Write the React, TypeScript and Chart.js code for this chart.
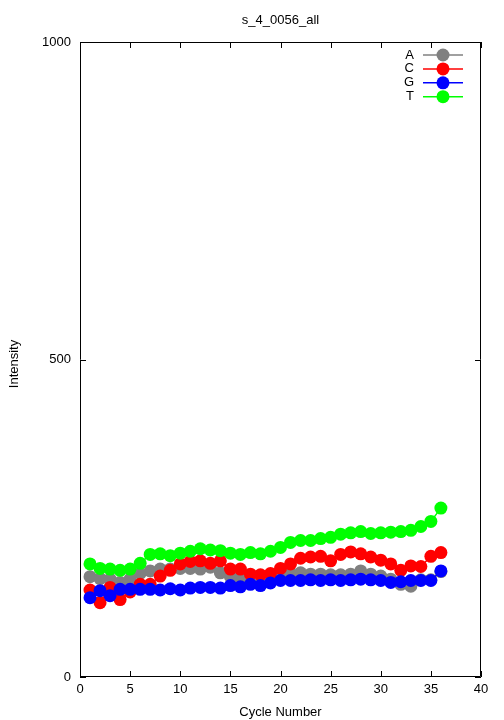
import { useEffect, useRef } from "react";
import { Chart, registerables } from "chart.js";

Chart.register(...registerables);

const chartTitle = "s_4_0056_all";
const xTitle = "Cycle Number";
const yTitle = "Intensity";
const cycles = [
  1, 2, 3, 4, 5, 6, 7, 8, 9, 10, 11, 12, 13, 14, 15, 16, 17, 18,
  19, 20, 21, 22, 23, 24, 25, 26, 27, 28, 29, 30, 31, 32, 33, 34, 35, 36,
];
const seriesA = [
  158, 155, 154, 149, 154, 163, 167, 170, 170, 171, 171, 170, 173, 164, 158, 155, 156, 155,
  156, 158, 163, 164, 162, 162, 161, 161, 162, 167, 162, 159, 154, 146, 143, 153, 153, 166,
];
const seriesC = [
  137, 117, 141, 122, 134, 146, 146, 159, 168, 178, 182, 183, 179, 183, 170, 170, 162, 161,
  163, 171, 178, 187, 189, 190, 183, 193, 197, 194, 189, 184, 178, 168, 175, 174, 190, 196,
];
const seriesG = [
  125, 136, 128, 138, 138, 138, 138, 137, 139, 137, 140, 141, 141, 140, 144, 142, 146, 144,
  148, 152, 152, 152, 153, 152, 153, 152, 153, 154, 153, 152, 149, 150, 152, 152, 152, 167,
];
const seriesT = [
  178, 171, 170, 168, 170, 179, 193, 194, 191, 195, 198, 202, 200, 199, 195, 193, 196, 194,
  198, 204, 212, 215, 215, 218, 220, 225, 227, 229, 226, 227, 228, 229, 231, 237, 245, 266,
];
const seriesNames = ["A", "C", "G", "T"];
const seriesColors = ["#808080", "#ff0000", "#0000ff", "#00ff00"];
const seriesValues = [seriesA, seriesC, seriesG, seriesT];

const FONT = "'Liberation Sans', Arial, sans-serif";
const FONT_SIZE = 13;
const POINT_R = 6.5;

const framePlugin = {
  id: "gnuFrame",
  beforeDatasetsDraw(chart: any) {
    const { ctx, chartArea } = chart;
    const { left, right, top, bottom } = chartArea;
    const xs = chart.scales.x;
    const ys = chart.scales.y;
    ctx.save();
    ctx.strokeStyle = "#000";
    ctx.lineWidth = 1;
    ctx.beginPath();
    ctx.rect(left + 0.5, top + 0.5, right - left - 1, bottom - top - 1);
    ctx.stroke();
    const tl = 6;
    ctx.beginPath();
    xs.ticks.forEach((t: any) => {
      const px = Math.round(xs.getPixelForValue(t.value)) + 0.5;
      ctx.moveTo(px, bottom);
      ctx.lineTo(px, bottom - tl);
      ctx.moveTo(px, top);
      ctx.lineTo(px, top + tl);
    });
    ys.ticks.forEach((t: any) => {
      const py = Math.round(ys.getPixelForValue(t.value)) + 0.5;
      ctx.moveTo(left, py);
      ctx.lineTo(left + tl, py);
      ctx.moveTo(right, py);
      ctx.lineTo(right - tl, py);
    });
    ctx.stroke();
    ctx.restore();
  },
  afterDraw(chart: any) {
    const { ctx, chartArea } = chart;
    ctx.save();
    ctx.fillStyle = "#000";
    ctx.font = `${FONT_SIZE}px ${FONT}`;
    ctx.textAlign = "center";
    ctx.textBaseline = "middle";
    ctx.fillText(chartTitle, (chartArea.left + chartArea.right) / 2, 20);
    ctx.fillText(xTitle, (chartArea.left + chartArea.right) / 2, 712);
    ctx.save();
    ctx.translate(14, 364);
    ctx.rotate(-Math.PI / 2);
    ctx.fillText(yTitle, 0, 0);
    ctx.restore();
    // legend
    const textRight = 414;
    const lineL = 423;
    const lineR = 463;
    const markX = 443;
    seriesNames.forEach((name, i) => {
      const y = 55 + i * 13.9;
      ctx.fillStyle = "#000";
      ctx.textAlign = "right";
      ctx.fillText(name, textRight, y);
      ctx.strokeStyle = seriesColors[i];
      ctx.lineWidth = 1.5;
      ctx.beginPath();
      ctx.moveTo(lineL, y);
      ctx.lineTo(lineR, y);
      ctx.stroke();
      ctx.fillStyle = seriesColors[i];
      ctx.beginPath();
      ctx.arc(markX, y, POINT_R, 0, Math.PI * 2);
      ctx.fill();
    });
    ctx.restore();
  },
};

export default function App() {
  const ref = useRef<HTMLCanvasElement | null>(null);
  useEffect(() => {
    document.body.style.margin = "0";
    const canvas = ref.current;
    if (!canvas) return;
    const datasets = seriesNames.map((name, i) => ({
      label: name,
      data: cycles.map((c, j) => ({ x: c, y: seriesValues[i][j] })),
      borderColor: seriesColors[i],
      backgroundColor: seriesColors[i],
      pointBackgroundColor: seriesColors[i],
      pointBorderWidth: 0,
      pointRadius: POINT_R,
      borderWidth: 1.5,
      showLine: true,
      order: seriesNames.length - i,
    }));
    const chart = new Chart(canvas, {
      type: "scatter",
      data: { datasets },
      options: {
        animation: false,
        responsive: false,
        devicePixelRatio: 1,
        layout: { padding: { top: 42, right: 23, left: 0, bottom: 0 } },
        plugins: {
          legend: { display: false },
          title: { display: false },
          tooltip: { enabled: false },
        },
        scales: {
          x: {
            type: "linear",
            min: 0,
            max: 40,
            ticks: {
              stepSize: 5,
              color: "#000",
              font: { family: FONT, size: FONT_SIZE },
              padding: 5,
              maxRotation: 0,
              callback: (v: any) => String(v),
            },
            grid: { display: false, drawTicks: false },
            border: { display: false },
            afterFit: (s: any) => {
              s.height = 43;
            },
          },
          y: {
            type: "linear",
            min: 0,
            max: 1000,
            ticks: {
              stepSize: 500,
              color: "#000",
              font: { family: FONT, size: FONT_SIZE },
              padding: 9,
              callback: (v: any) => String(v),
            },
            grid: { display: false, drawTicks: false },
            border: { display: false },
            afterFit: (s: any) => {
              s.width = 80;
            },
          },
        },
      },
      plugins: [framePlugin],
    } as any);
    return () => chart.destroy();
  }, []);
  return (
    <div style={{ position: "fixed", left: 0, top: 0, width: 504, height: 720, background: "#fff" }}>
      <canvas ref={ref} width={504} height={720} style={{ width: 504, height: 720 }} />
    </div>
  );
}
